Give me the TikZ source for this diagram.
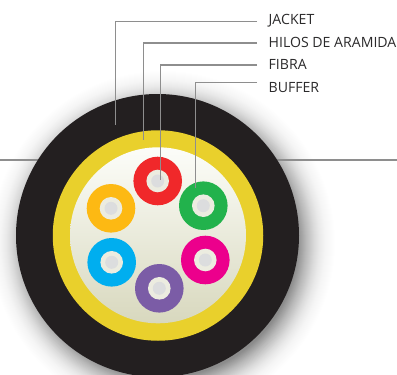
\documentclass[tikz,border=0pt]{standalone}
\usepackage{fontspec}
\setmainfont{Open Sans}
\definecolor{jacketblack}{HTML}{231F20}
\definecolor{aramid}{HTML}{E9D02C}
\definecolor{leader}{HTML}{8E8E8E}
\definecolor{labeltext}{HTML}{2B2A2B}
\definecolor{ringwhite}{HTML}{ECECE0}
\definecolor{coregray}{HTML}{DCDDDE}
\definecolor{fillertop}{HTML}{FCFDF9}
\definecolor{fillermid}{HTML}{EFF0E2}
\definecolor{fillerbot}{HTML}{D8D8BE}
\tikzset{
  leaderline/.style={draw=leader,line width=1.3pt},
  cablelabel/.style={anchor=base west,inner sep=0pt,text=labeltext,font=\fontsize{14.1}{15}\selectfont},
  bufferdisc/.style={circle,inner sep=0pt,minimum size=48.6pt,fill=#1},
  ringdisc/.style={circle,inner sep=0pt,minimum size=22.6pt,fill=ringwhite},
  coredisc/.style={circle,inner sep=0pt,minimum size=13pt,fill=coregray},
}
\begin{document}
\begin{tikzpicture}[x=1pt,y=-1pt]
\useasboundingbox (0,0) rectangle (397,375);
\fill[white] (0,0) rectangle (397,375);
% soft shadow
\begin{scope}
\clip (0,0) rectangle (397,375);
\foreach \r in {178,177,...,135}{
  \pgfmathsetmacro{\shadowop}{0.0015+0.032*((178-\r)/43)^2}
  \fill[black,opacity=\shadowop] (163,243) circle (\r pt);
}
\end{scope}
% side lines
\node[inner sep=0pt,minimum size=0pt] (sideL) at (0,160) {};
\node[inner sep=0pt,minimum size=0pt] (sideLend) at (40,160) {};
\node[inner sep=0pt,minimum size=0pt] (sideR) at (397,160) {};
\node[inner sep=0pt,minimum size=0pt] (sideRend) at (275,160) {};
\draw[leaderline] (sideL) -- (sideLend);
\draw[leaderline] (sideR) -- (sideRend);
% cable
\node[circle,inner sep=0pt,minimum size=283pt,fill=jacketblack] (jacket) at (157.5,235.5) {};
\node[circle,inner sep=0pt,minimum size=210.5pt,fill=aramid] (yarn) at (158,235.5) {};
\node[circle,inner sep=0pt,minimum size=176pt,draw=none,
  top color=fillertop,middle color=fillermid,bottom color=fillerbot] (filler) at (158,235.3) {};
\foreach \n/\c/\x/\y in {red/F0282A/157.7/181,orange/FDB913/111/208.3,blue/00AEEF/111.7/262.3,purple/7B5CA6/159.3/288.3,green/22B24C/203.3/205.7,magenta/EC008C/205.3/260}{
  \definecolor{bufc}{HTML}{\c}
  \node[bufferdisc=bufc] (b\n) at (\x,\y) {};
  \node[ringdisc] (r\n) at (\x,\y) {};
  \node[coredisc] (c\n) at (\x,\y) {};
}
% labels
\node[cablelabel] (lJ) at (268.5,24.6) {JACKET};
\node[cablelabel] (lH) at (268.5,47.6) {HILOS DE ARAMIDA};
\node[cablelabel] (lF) at (268.5,69.6) {FIBRA};
\node[cablelabel] (lB) at (268.5,92.6) {BUFFER};
% leaders
\coordinate (eJ) at (257,21.7); \coordinate (tJ) at (115.7,125);
\coordinate (eH) at (257,43);   \coordinate (tH) at (143.7,140);
\coordinate (eF) at (257,65);   \coordinate (tF) at (160.7,180);
\coordinate (eB) at (257,82.3); \coordinate (tB) at (195.3,188.3);
\draw[leaderline] (eJ) -| (tJ);
\draw[leaderline] (eH) -| (tH);
\draw[leaderline] (eF) -| (tF);
\draw[leaderline] (eB) -| (tB);
\end{tikzpicture}
\end{document}
